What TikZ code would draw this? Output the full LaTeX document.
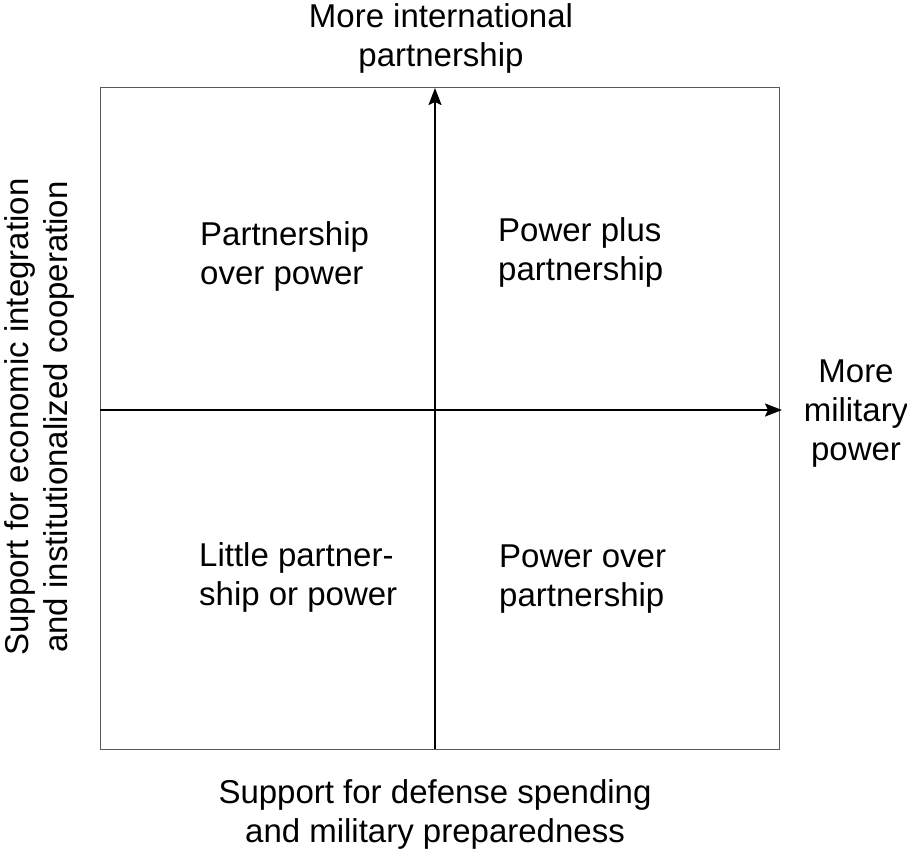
\documentclass[tikz,border=0pt]{standalone}
\usepackage{fontspec}
\setmainfont{Liberation Sans}
\usetikzlibrary{arrows.meta}
\tikzset{
  lbl/.style={font=\fontsize{33}{39}\selectfont, inner sep=0pt},
  axis/.style={line width=2pt, -{Stealth[length=17pt,width=13pt,inset=3pt]}},
  frame/.style={draw=black!65, line width=1pt}
}
\begin{document}
\begin{tikzpicture}[x=1pt,y=-1pt]
\useasboundingbox (0,0) rectangle (907,853);
\draw[frame] (100,88) rectangle (779,749);
\coordinate (vb) at (435,749);
\coordinate (vt) at (435,88);
\coordinate (hl) at (100,410);
\coordinate (hr) at (782,410);
\draw[axis] (vb) -- (vt);
\draw[axis] (hl) -- (hr);
\node[lbl, align=center, anchor=base] (top) at (441,67) {More international\\partnership};
\node[lbl, align=center, anchor=base] (bot) at (435,842) {Support for defense spending\\and military preparedness};
\node[lbl, align=center, anchor=base] (right) at (856,460) {More\\military\\power};
\node[lbl, align=left, anchor=base west] (tl) at (200,284) {Partnership\\over power};
\node[lbl, align=left, anchor=base west] (tr) at (498,280) {Power plus\\partnership};
\node[lbl, align=left, anchor=base west] (bl) at (199,605) {Little partner-\\ship or power};
\node[lbl, align=left, anchor=base west] (br) at (499,606) {Power over\\partnership};
\node[lbl, align=center, rotate=90, anchor=base] (left) at (67,417) {Support for economic integration\\and institutionalized cooperation};
\end{tikzpicture}
\end{document}
